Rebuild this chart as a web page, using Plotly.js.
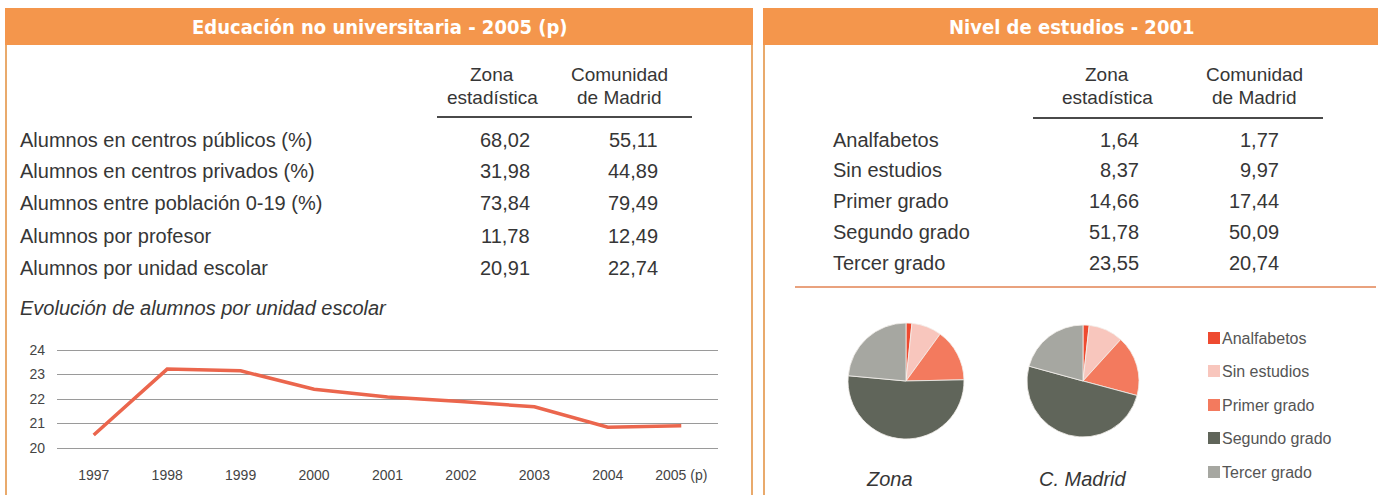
<!DOCTYPE html>
<html><head><meta charset="utf-8">
<script src="https://cdn.plot.ly/plotly-3.0.1.min.js"></script>
<style>html,body{margin:0;padding:0;background:#fff}#chart{width:1378px;height:495px}</style>
</head><body><div id="chart"></div>
<script>
// ---- Data ----
const eduLabels = ['Alumnos en centros públicos (%)','Alumnos en centros privados (%)','Alumnos entre población 0-19 (%)','Alumnos por profesor','Alumnos por unidad escolar'];
const eduZona = [68.02, 31.98, 73.84, 11.78, 20.91];
const eduMadrid = [55.11, 44.89, 79.49, 12.49, 22.74];

const nivelLabels = ['Analfabetos','Sin estudios','Primer grado','Segundo grado','Tercer grado'];
const nivelZona = [1.64, 8.37, 14.66, 51.78, 23.55];
const nivelMadrid = [1.77, 9.97, 17.44, 50.09, 20.74];

const years = ['1997','1998','1999','2000','2001','2002','2003','2004','2005 (p)'];
const alumnosUnidad = [20.53, 23.22, 23.15, 22.40, 22.08, 21.90, 21.68, 20.85, 20.91];
const yTicks = [20, 21, 22, 23, 24];

const pieColors = ['#EE4A30','#F8C6BD','#F37A5E','#60655A','#A6A7A1'];

// ---- Helpers ----
const W = 1378, H = 495;
const fx = x => x / W, fy = y => 1 - y / H;
const fmt = v => v.toFixed(2).replace('.', ',');
const FONT = 'Liberation Sans, Arial, sans-serif';
const NARROW = 'Liberation Sans Narrow, Arial Narrow, DejaVu Sans Condensed, sans-serif';
const TXT = '#363636';

const ann = [];
function t(text, x, y, opts) {
  opts = opts || {};
  ann.push({text: text, xref: 'paper', yref: 'paper', x: fx(x), y: fy(y),
    xanchor: opts.xa || 'left', yanchor: 'middle', showarrow: false,
    font: {family: opts.family || FONT, size: opts.size || 20, color: opts.color || TXT}});
}

const shapes = [];
function rect(x0, y0, x1, y1, color) {
  shapes.push({type: 'rect', xref: 'paper', yref: 'paper', x0: fx(x0), x1: fx(x1), y0: fy(y1), y1: fy(y0),
    fillcolor: color, line: {width: 0}, layer: 'below'});
}
function line(x0, y0, x1, y1, color, w) {
  shapes.push({type: 'line', xref: 'paper', yref: 'paper', x0: fx(x0), x1: fx(x1), y0: fy(y0), y1: fy(y1),
    line: {color: color, width: w}, layer: 'below'});
}

// Panel headers and borders
const ORANGE = '#F4964C', BORDER = '#E9AA6C';
rect(5, 8, 753, 45, ORANGE);
rect(763, 8, 1378, 45, ORANGE);
line(6, 45, 6, 495, BORDER, 2);
line(752, 45, 752, 495, BORDER, 2);
line(764, 45, 764, 495, BORDER, 2);
line(795, 287, 1376, 287, '#E9A27E', 2);

t('<b>Educación no universitaria - 2005 (p)</b>', 380, 27, {xa: 'center', family: NARROW, size: 20, color: '#ffffff'});
t('<b>Nivel de estudios - 2001</b>', 1071, 27, {xa: 'center', family: NARROW, size: 20, color: '#ffffff'});

// Left table
t('Zona', 492, 75, {xa: 'center', size: 19});
t('estadística', 492, 97, {xa: 'center', size: 19});
t('Comunidad', 619, 75, {xa: 'center', size: 19});
t('de Madrid', 619, 97, {xa: 'center', size: 19});
line(437, 117, 692, 117, '#4a4a4a', 2);
const eduRowY = [140, 171, 203, 236, 268];
eduLabels.forEach((l, i) => {
  t(l, 18, eduRowY[i]);
  t(fmt(eduZona[i]), 532, eduRowY[i], {xa: 'right'});
  t(fmt(eduMadrid[i]), 660, eduRowY[i], {xa: 'right'});
});
t('<i>Evolución de alumnos por unidad escolar</i>', 18, 308);

// Right table
t('Zona', 1107, 75, {xa: 'center', size: 19});
t('estadística', 1107, 97, {xa: 'center', size: 19});
t('Comunidad', 1254, 75, {xa: 'center', size: 19});
t('de Madrid', 1254, 97, {xa: 'center', size: 19});
line(1033, 118, 1323, 118, '#4a4a4a', 2);
const nivelRowY = [140, 170, 201, 232, 263];
nivelLabels.forEach((l, i) => {
  t(l, 831, nivelRowY[i]);
  t(fmt(nivelZona[i]), 1141, nivelRowY[i], {xa: 'right'});
  t(fmt(nivelMadrid[i]), 1281, nivelRowY[i], {xa: 'right'});
});

// Pie captions
t('<i>Zona</i>', 889, 479, {xa: 'center'});
t('<i>C. Madrid</i>', 1083, 479, {xa: 'center'});

// Custom legend built from labels/colors
const legY = [338, 371, 405, 438, 472];
nivelLabels.forEach((l, i) => {
  rect(1208, legY[i] - 6, 1220, legY[i] + 6, pieColors[i]);
  t(l, 1220, legY[i], {size: 16, color: '#555555'});
});

// ---- Traces ----
const lineTrace = {
  type: 'scatter', mode: 'lines', x: years, y: alumnosUnidad,
  line: {color: '#EB664D', width: 3.5}, xaxis: 'x', yaxis: 'y', showlegend: false, hoverinfo: 'x+y'
};
const pieBase = {
  type: 'pie', labels: nivelLabels, sort: false, direction: 'clockwise', rotation: 0,
  textinfo: 'none', marker: {colors: pieColors, line: {color: '#f4f0ec', width: 0.8}}, showlegend: false
};
const pieZona = Object.assign({}, pieBase, {values: nivelZona, name: 'Zona',
  domain: {x: [fx(848), fx(964)], y: [fy(439), fy(323)]}});
const pieMadrid = Object.assign({}, pieBase, {values: nivelMadrid, name: 'C. Madrid',
  domain: {x: [fx(1027), fx(1139)], y: [fy(437), fy(325)]}});

const layout = {
  width: W, height: H, margin: {l: 0, r: 0, t: 0, b: 0},
  paper_bgcolor: '#ffffff', plot_bgcolor: 'rgba(0,0,0,0)',
  showlegend: false,
  xaxis: {domain: [fx(57), fx(718)], type: 'category', range: [-0.5, 8.5], showgrid: false, zeroline: false, showline: false,
    ticks: '', ticklabelstandoff: 15, tickfont: {family: FONT, size: 14, color: '#444'}, fixedrange: true},
  yaxis: {domain: [fy(450.45), fy(347.55)], range: [19.9, 24.1], tickvals: yTicks, showgrid: true,
    gridcolor: '#9a9a9a', gridwidth: 1, zeroline: false, showline: false, ticks: '', ticklabelstandoff: 11,
    tickfont: {family: FONT, size: 14, color: '#444'}, fixedrange: true},
  annotations: ann, shapes: shapes
};

Plotly.newPlot('chart', [lineTrace, pieZona, pieMadrid], layout, {displayModeBar: false, staticPlot: true});
</script>
</body></html>
